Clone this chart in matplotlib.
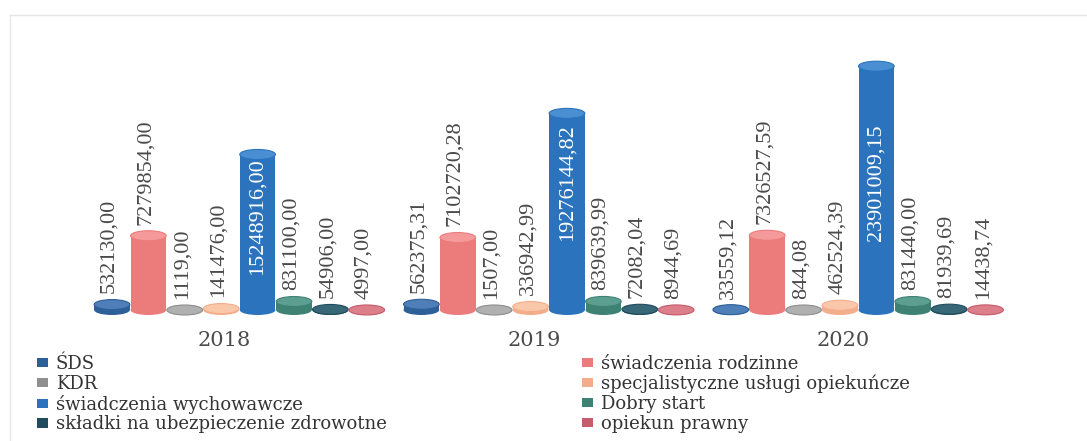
import numpy as np
import matplotlib
matplotlib.use("Agg")
import matplotlib.pyplot as plt
from matplotlib.patches import Rectangle, Ellipse, Patch
from matplotlib.lines import Line2D

# Data (PLN)
years = ["2018", "2019", "2020"]
series = [
    "ŚDS",
    "świadczenia rodzinne",
    "KDR",
    "specjalistyczne usługi opiekuńcze",
    "świadczenia wychowawcze",
    "Dobry start",
    "składki na ubezpieczenie zdrowotne",
    "opiekun prawny",
]
values_2018 = [532130.00, 7279854.00, 1119.00, 141476.00, 15248916.00, 831100.00, 54906.00, 4997.00]
values_2019 = [562375.31, 7102720.28, 1507.00, 336942.99, 19276144.82, 839639.99, 72082.04, 8944.69]
values_2020 = [33559.12, 7326527.59, 844.08, 462524.39, 23901009.15, 831440.00, 81939.69, 14438.74]
values = [values_2018, values_2019, values_2020]

colors = ["#2d5f98", "#ec7b7c", "#8f8f8f", "#f4ad8a", "#2b74bd", "#3e8273", "#1f4b5c", "#c65d6c"]
tops = ["#4f7fb8", "#f59a9a", "#b0b0b0", "#f9c7aa", "#4a8fd2", "#5c9f90", "#386878", "#dc7f8b"]

GROUP_STEP = 8.5     # distance between year groups, in bar widths
BAR_W = 0.98
CAP_PX = 10          # height of the cylinder end ellipse in pixels
LABEL_CAP = 18.6e6   # labels inside the big bars do not rise above this

TXT = "#4a4a4a"
LEG_TXT = "#333333"

fig = plt.figure(figsize=(10.87, 4.41), dpi=100)
W, H = 1087, 441
ax = fig.add_axes([80 / W, 1 - 325 / H, 970 / W, 305 / H])
ax.set_xlim(-0.879, 25.77)
ax.set_ylim(-1.47e6, 28.43e6)
ax.axis("off")

px_per_unit_y = 305 / (28.43e6 + 1.47e6)
cap_h = CAP_PX / px_per_unit_y

for g, vals in enumerate(values):
    for i, v in enumerate(vals):
        x = g * GROUP_STEP + i
        c = colors[i]
        ax.add_patch(Ellipse((x, 0), BAR_W, cap_h, facecolor=c, edgecolor="none", zorder=2))
        ax.add_patch(Rectangle((x - BAR_W / 2, 0), BAR_W, v, facecolor=c, edgecolor="none", zorder=2))
        ax.add_patch(Ellipse((x, v), BAR_W, cap_h, facecolor=tops[i], edgecolor=c, lw=0.8, zorder=3))
        label = f"{v:.2f}".replace(".", ",")
        if i == 4:
            ax.annotate(label, (x, min(v, LABEL_CAP)), xytext=(0, -3), textcoords="offset points",
                        rotation=90, ha="center", va="top", color="white",
                        fontsize=16, family="Liberation Serif", zorder=5)
        else:
            ax.annotate(label, (x, v), xytext=(-2, 8), textcoords="offset points",
                        rotation=90, ha="center", va="bottom", color=TXT,
                        fontsize=16, family="Liberation Serif", zorder=5)

# year labels (shifted a bit left as in the perspective original)
for g, yr in enumerate(years):
    xc = g * GROUP_STEP + 3.5 - 0.41
    ax.annotate(yr, (xc, 0), xycoords=("data", "axes fraction"), xytext=(0, -4),
                textcoords="offset points", ha="center", va="top",
                fontsize=15, family="DejaVu Serif", color=TXT)

handles = [Patch(facecolor=colors[i], edgecolor="none", label=series[i]) for i in range(len(series))]
leg_kw = dict(frameon=False, loc="upper left", borderpad=0, borderaxespad=0,
              handlelength=0.6, handleheight=0.4, handletextpad=0.45, labelspacing=0.1,
              labelcolor=LEG_TXT, prop={"family": "DejaVu Serif", "size": 13})
fig.legend(handles=handles[0::2], bbox_to_anchor=(37 / W, 1 - 355 / H), **leg_kw)
fig.legend(handles=handles[1::2], bbox_to_anchor=(582 / W, 1 - 355 / H), **leg_kw)

# faint frame of the scanned chart
fig.add_artist(Line2D([10 / W, 10 / W], [0, 1 - 15 / H], color="#e6e6e6", lw=1))
fig.add_artist(Line2D([10 / W, 1], [1 - 15 / H, 1 - 15 / H], color="#e6e6e6", lw=1))

fig.savefig("out.png", dpi=100, facecolor="white")
